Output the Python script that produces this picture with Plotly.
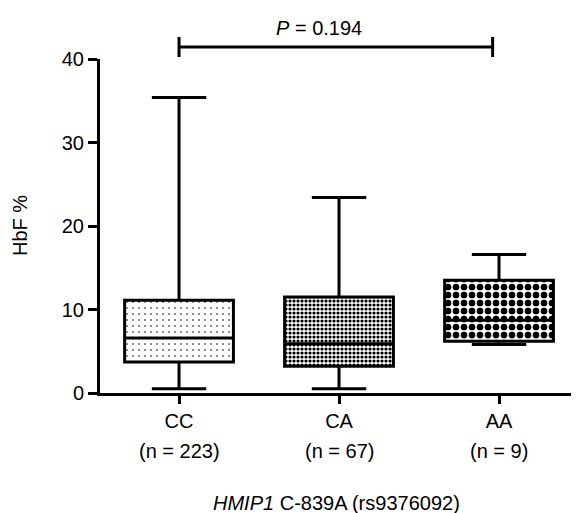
import plotly.graph_objects as go

# ---- data ----
categories = ["CC", "CA", "AA"]
n_labels = ["(n = 223)", "(n = 67)", "(n = 9)"]
q1 = [3.7, 3.2, 6.2]
median = [6.6, 5.9, 8.7]
q3 = [11.1, 11.5, 13.5]
lower = [0.5, 0.5, 5.8]
upper = [35.4, 23.4, 16.6]
p_text = "<i>P</i> = 0.194"
y_ticks = [0, 10, 20, 30, 40]

FONT = "Liberation Sans, Arial, Helvetica, sans-serif"
FS = 20
BOXW = 0.68
PAGE_OFFSET = 8  # default body margin of the html page

fig = go.Figure()

# patterned fill of the boxes
fig.add_trace(go.Bar(
    x=categories,
    y=[b - a for a, b in zip(q1, q3)],
    base=q1,
    width=BOXW,
    marker=dict(
        color="white",
        line=dict(width=0),
        pattern=dict(
            shape=[".", ".", "."],
            size=[6, 4, 8],
            solidity=[0.06, 0.5, 0.55],
            fgcolor="black",
            bgcolor="white",
            fillmode="replace",
        ),
    ),
    hoverinfo="skip",
    showlegend=False,
))

# box outlines, medians, whiskers
fig.add_trace(go.Box(
    x=categories,
    q1=q1, median=median, q3=q3,
    lowerfence=lower, upperfence=upper,
    width=BOXW,
    whiskerwidth=0.5,
    fillcolor="rgba(0,0,0,0)",
    line=dict(color="black", width=3),
    boxpoints=False,
    showlegend=False,
))

fig.update_layout(
    width=579 - PAGE_OFFSET, height=513 - PAGE_OFFSET,
    margin=dict(l=100 - PAGE_OFFSET, r=0, t=59 - PAGE_OFFSET, b=120),
    plot_bgcolor="white", paper_bgcolor="white",
    font=dict(family=FONT, size=FS, color="black"),
    showlegend=False,
    xaxis=dict(
        type="category",
        range=[-0.494, 2.5],
        showline=True, linecolor="black", linewidth=3,
        ticks="outside", ticklen=8, tickwidth=3, tickcolor="black",
        showgrid=False, zeroline=False,
        tickfont=dict(size=FS),
    ),
    yaxis=dict(
        range=[0, 40],
        tickvals=y_ticks,
        showline=True, linecolor="black", linewidth=3,
        ticks="outside", ticklen=9, tickwidth=3, tickcolor="black",
        showgrid=False, zeroline=False,
        tickfont=dict(size=FS),
    ),
)

# n counts under category labels
for c, t in zip(categories, n_labels):
    fig.add_annotation(x=c, xref="x", y=-0.174, yref="paper", text=t,
                       showarrow=False, font=dict(size=FS), yanchor="middle")

# x title
fig.add_annotation(x=(336 - 100) / 479, xref="paper", y=-0.329, yref="paper",
                   text="<i>HMIP1</i> C-839A (rs9376092)", showarrow=False,
                   font=dict(size=FS), yanchor="middle")
# y title
fig.add_annotation(x=-0.167, xref="paper", y=0.5, yref="paper",
                   text="HbF %", textangle=-90, showarrow=False,
                   font=dict(size=FS), xanchor="center", yanchor="middle")

# significance bracket
x0, x1 = 0, 1.96
fig.add_shape(type="line", xref="x", yref="paper", x0=x0, x1=x1, y0=1.036, y1=1.036,
              line=dict(color="black", width=3))
for xe in (x0, x1):
    fig.add_shape(type="line", xref="x", yref="paper", x0=xe, x1=xe, y0=1.006, y1=1.066,
                  line=dict(color="black", width=3))
fig.add_annotation(x=0.875, xref="x", y=1.093, yref="paper", text=p_text,
                   showarrow=False, font=dict(size=FS), yanchor="middle")

fig.write_html("out.html")
